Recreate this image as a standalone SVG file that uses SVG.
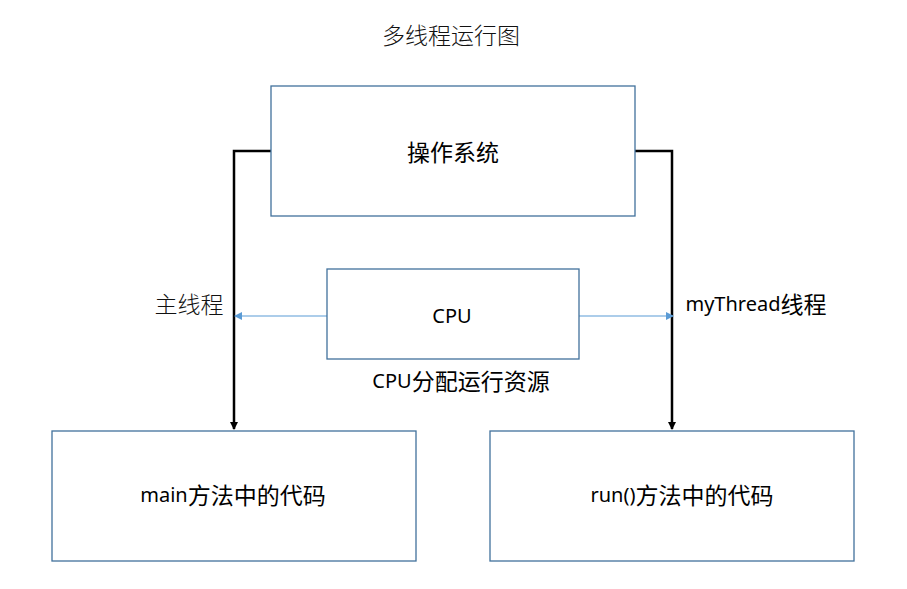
<svg xmlns="http://www.w3.org/2000/svg" width="907" height="589" viewBox="0 0 907 589">
<style>
.box{fill:#fff;stroke:#41719C;stroke-width:1.3}
.t{font-family:"Noto Sans CJK SC","Noto Sans",sans-serif;font-size:23px;fill:#000;text-anchor:middle;dominant-baseline:central}
.lt{font-family:"Noto Sans",sans-serif;font-size:20px}
.lbl{font-family:"Noto Sans CJK SC","Noto Sans",sans-serif;font-weight:300;font-size:23px;fill:#111;text-anchor:middle;dominant-baseline:central}
.blk{fill:none;stroke:#000;stroke-width:2.5}
.blu{fill:none;stroke:#5B9BD5;stroke-width:1.2}
</style>
<defs>
<marker id="ab" markerWidth="8" markerHeight="8" refX="7" refY="4" orient="auto" markerUnits="userSpaceOnUse"><path d="M0,0 L8,4 L0,8 Z" fill="#000"/></marker>
<marker id="au" markerWidth="8" markerHeight="8" refX="7" refY="4" orient="auto" markerUnits="userSpaceOnUse"><path d="M0,0 L8,4 L0,8 Z" fill="#5B9BD5"/></marker>
</defs>
<rect width="907" height="589" fill="#fff"/>
<text class="lbl" x="451" y="34">多线程运行图</text>
<g id="connectors">
<path class="blk" d="M271,151 H234 V429" marker-end="url(#ab)"/>
<path class="blk" d="M635,151 H672 V429" marker-end="url(#ab)"/>
<path class="blu" d="M327,316 H235" marker-end="url(#au)"/>
<path class="blu" d="M579,316 H673" marker-end="url(#au)"/>
</g>
<g id="os"><rect class="box" x="271" y="86" width="364" height="130"/><text class="t" x="453" y="151">操作系统</text></g>
<g id="cpu"><rect class="box" x="327" y="269" width="252" height="90"/><text class="t" x="452" y="315"><tspan class="lt">CPU</tspan></text></g>
<text class="t" x="461" y="380"><tspan class="lt">CPU</tspan>分配运行资源</text>
<text class="lbl" x="189" y="303">主线程</text>
<text class="t" x="756" y="303"><tspan class="lt">myThread</tspan>线程</text>
<g id="main"><rect class="box" x="52" y="431" width="364" height="130"/><text class="t" x="233" y="494"><tspan class="lt">main</tspan>方法中的代码</text></g>
<g id="run"><rect class="box" x="490" y="431" width="364" height="130"/><text class="t" x="682" y="494"><tspan class="lt">run()</tspan>方法中的代码</text></g>
</svg>
